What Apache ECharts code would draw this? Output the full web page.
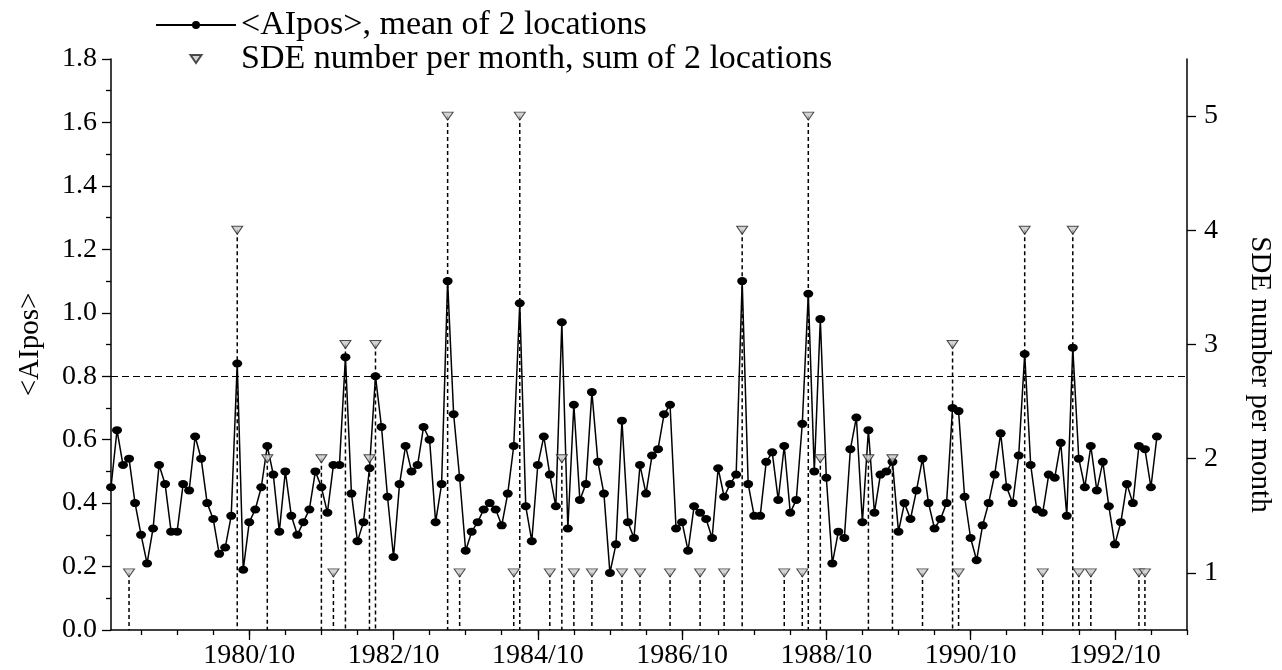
<!DOCTYPE html>
<html>
<head>
<meta charset="utf-8">
<script src="https://cdn.jsdelivr.net/npm/echarts@6/dist/echarts.min.js"></script>
<style>
  html, body { margin: 0; padding: 0; background: #fff; }
  #chart { width: 1282px; height: 670px; }
</style>
</head>
<body>
<div id="chart"></div>
<script>
// monthly axis, 1978/11 .. 1993/10
var months = [];
for (var y = 1978, m = 11; months.length < 180;) {
    months.push(y + "/" + (m < 10 ? "0" + m : m));
    m++;
    if (m > 12) { m = 1; y++; }
}
var tickLabels = ["1980/10", "1982/10", "1984/10", "1986/10", "1988/10", "1990/10", "1992/10"];

// <AIpos>, mean of 2 locations (from 1978/11)
var aipos = [
    0.45, 0.63, 0.52, 0.54, 0.40, 0.30, 0.21, 0.32, 0.52, 0.46,
    0.31, 0.31, 0.46, 0.44, 0.61, 0.54, 0.40, 0.35, 0.24, 0.26,
    0.36, 0.84, 0.19, 0.34, 0.38, 0.45, 0.58, 0.49, 0.31, 0.50,
    0.36, 0.30, 0.34, 0.38, 0.50, 0.45, 0.37, 0.52, 0.52, 0.86,
    0.43, 0.28, 0.34, 0.51, 0.80, 0.64, 0.42, 0.23, 0.46, 0.58,
    0.50, 0.52, 0.64, 0.60, 0.34, 0.46, 1.10, 0.68, 0.48, 0.25,
    0.31, 0.34, 0.38, 0.40, 0.38, 0.33, 0.43, 0.58, 1.03, 0.39,
    0.28, 0.52, 0.61, 0.49, 0.39, 0.97, 0.32, 0.71, 0.41, 0.46,
    0.75, 0.53, 0.43, 0.18, 0.27, 0.66, 0.34, 0.29, 0.52, 0.43,
    0.55, 0.57, 0.68, 0.71, 0.32, 0.34, 0.25, 0.39, 0.37, 0.35,
    0.29, 0.51, 0.42, 0.46, 0.49, 1.10, 0.46, 0.36, 0.36, 0.53,
    0.56, 0.41, 0.58, 0.37, 0.41, 0.65, 1.06, 0.50, 0.98, 0.48,
    0.21, 0.31, 0.29, 0.57, 0.67, 0.34, 0.63, 0.37, 0.49, 0.50,
    0.53, 0.31, 0.40, 0.35, 0.44, 0.54, 0.40, 0.32, 0.35, 0.40,
    0.70, 0.69, 0.42, 0.29, 0.22, 0.33, 0.40, 0.49, 0.62, 0.45,
    0.40, 0.55, 0.87, 0.52, 0.38, 0.37, 0.49, 0.48, 0.59, 0.36,
    0.89, 0.54, 0.45, 0.58, 0.44, 0.53, 0.39, 0.27, 0.34, 0.46,
    0.40, 0.58, 0.57, 0.45, 0.61
];

// SDE number per month, sum of 2 locations
var sdeMonths = [
    "1979/02", "1980/08", "1981/01", "1981/10", "1981/12", "1982/02", "1982/06", "1982/07",
    "1983/07", "1983/09", "1984/06", "1984/07", "1984/12", "1985/02", "1985/04", "1985/07",
    "1985/12", "1986/03", "1986/08", "1987/01", "1987/05", "1987/08", "1988/03", "1988/06",
    "1988/07", "1988/09", "1989/05", "1989/09", "1990/02", "1990/07", "1990/08", "1991/07",
    "1991/10", "1992/03", "1992/04", "1992/06", "1993/02", "1993/03"
];
var sdeCounts = [
    1, 4, 2, 2, 1, 3, 2, 3,
    5, 1, 1, 5, 1, 2, 1, 1,
    1, 1, 1, 1, 1, 4, 1, 1,
    5, 2, 2, 2, 1, 3, 1, 4,
    1, 4, 1, 1, 1, 1
];
var sdeTicks = [1, 2, 3, 4, 5];

var sdeData = sdeMonths.map(function (mo, i) { return [mo, sdeCounts[i]]; });

var font = "Liberation Serif";
var black = "#000";
var lineName = "<AIpos>, mean of 2 locations";
var sdeName = "SDE number per month, sum of 2 locations";

var myChart = echarts.init(document.getElementById("chart"));
var option = {
    animation: false,
    grid: { left: 111, right: 87, top: 59, bottom: 40 },
    legend: {
        orient: "vertical",
        left: 150,
        top: 3,
        itemWidth: 80,
        itemHeight: 10,
        itemGap: 0,
        textStyle: { fontFamily: font, fontSize: 34, color: black },
        data: [
            lineName,
            // small down-triangle in the middle of the 80px icon box
            { name: sdeName, icon: "path://M0,0M80,10M34.5,1L45.5,1L40,9Z", symbolRotate: 0 }
        ]
    },
    xAxis: [
        {
            type: "category",
            data: months,
            boundaryGap: false,
            position: "bottom",
            axisLine: { lineStyle: { color: black, width: 1.5 } },
            axisTick: {
                length: 5,
                interval: function (i) { return i % 6 === 5; },
                lineStyle: { color: black, width: 1.3 }
            },
            axisLabel: {
                interval: function (i, v) { return tickLabels.indexOf(v) >= 0; },
                fontFamily: font, fontSize: 28, color: black, margin: 12
            },
            splitLine: { show: false }
        },
        {
            // longer ticks under the labelled months
            type: "category",
            data: months,
            boundaryGap: false,
            position: "bottom",
            axisLine: { show: false },
            axisTick: {
                length: 10,
                interval: function (i, v) { return tickLabels.indexOf(v) >= 0; },
                lineStyle: { color: black, width: 1.3 }
            },
            axisLabel: { show: false },
            splitLine: { show: false }
        }
    ],
    yAxis: [
        {
            type: "value",
            min: 0, max: 1.8, interval: 0.2,
            position: "left",
            name: "<AIpos>",
            nameLocation: "middle",
            nameGap: 66,
            nameTextStyle: { fontFamily: font, fontSize: 29, color: black },
            axisLine: { show: true, lineStyle: { color: black, width: 1.5 } },
            axisTick: { show: true, length: 9, lineStyle: { color: black, width: 1.3 } },
            minorTick: { show: true, splitNumber: 2, length: 5, lineStyle: { color: black, width: 1.3 } },
            axisLabel: {
                fontFamily: font, fontSize: 28, color: black, margin: 14,
                formatter: function (v) { return v.toFixed(1); }
            },
            splitLine: { show: false }
        },
        {
            type: "value",
            min: 0.5, max: 5.5,
            position: "right",
            name: "SDE number per month",
            nameLocation: "middle",
            nameRotate: -90,
            nameGap: 58,
            nameTextStyle: { fontFamily: font, fontSize: 29, color: black, padding: [0, 0, 0, 60] },
            axisLine: { show: true, lineStyle: { color: black, width: 1.5 } },
            axisTick: { show: true, length: 9, customValues: sdeTicks, lineStyle: { color: black, width: 1.3 } },
            axisLabel: {
                customValues: sdeTicks,
                fontFamily: font, fontSize: 28, color: black, margin: 17
            },
            splitLine: { show: false }
        }
    ],
    series: [
        {
            type: "custom",
            yAxisIndex: 1,
            silent: true,
            z: 1,
            data: sdeData,
            renderItem: function (params, api) {
                var top = api.coord([api.value(0), api.value(1)]);
                var bottom = api.coord([api.value(0), 0.5]);
                return {
                    type: "line",
                    shape: { x1: top[0], y1: top[1], x2: bottom[0], y2: bottom[1] },
                    style: { stroke: black, lineWidth: 1.5, lineDash: [4, 3] }
                };
            }
        },
        {
            name: lineName,
            type: "line",
            data: aipos,
            z: 3,
            symbol: "circle",
            symbolSize: [10, 8],
            showAllSymbol: true,
            itemStyle: { color: black },
            lineStyle: { color: black, width: 1.5 },
            markLine: {
                silent: true,
                symbol: "none",
                label: { show: false },
                lineStyle: { color: black, width: 1, type: [7, 4] },
                data: [{ yAxis: 0.8 }]
            }
        },
        {
            name: sdeName,
            type: "scatter",
            yAxisIndex: 1,
            z: 4,
            data: sdeData,
            symbol: "triangle",
            symbolRotate: 180,
            symbolSize: [11, 8],
            itemStyle: { color: "#c8c8c8", borderColor: "#222", borderWidth: 1 }
        }
    ]
};
myChart.setOption(option);
window.addEventListener("resize", function () {
    myChart.resize();
});
</script>
</body>
</html>
